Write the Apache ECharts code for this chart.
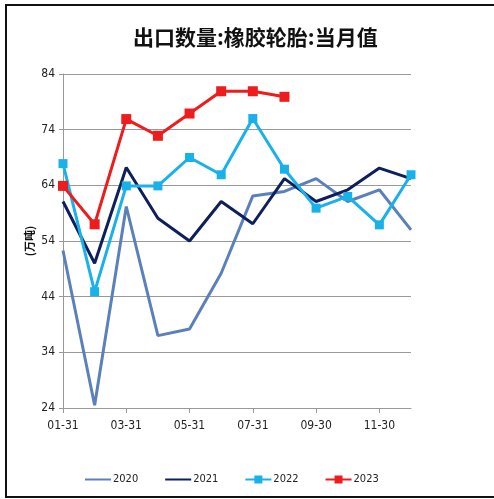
<!DOCTYPE html>
<html>
<head>
<meta charset="utf-8">
<script src="https://cdn.jsdelivr.net/npm/echarts@6/dist/echarts.min.js"></script>
<style>
  html, body { margin: 0; padding: 0; background: #fff; }
  #chart { width: 494px; height: 499px; }
</style>
</head>
<body>
<div id="chart"></div>
<script>
// month-end dates on the x axis
const months = ['01-31', '02-28', '03-31', '04-30', '05-31', '06-30',
  '07-31', '08-31', '09-30', '10-31', '11-30', '12-31'];
// y tick values
const yTicks = [24, 34, 44, 54, 64, 74, 84];

// export volume, 10k tonnes
const v2020 = [52.3, 24.5, 60.2, 37.0, 38.2, 48.2, 62.1, 62.9, 65.2, 61.1, 63.2, 56.0];
const v2021 = [61.1, 50.0, 67.2, 58.1, 54.0, 61.1, 57.1, 65.2, 61.1, 63.2, 67.1, 65.2];
const v2022 = [67.9, 44.9, 63.9, 63.9, 69.0, 65.9, 76.0, 66.9, 59.9, 62.0, 56.9, 65.9];
const v2023 = [63.9, 57.0, 75.9, 72.9, 76.9, 80.9, 80.9, 79.9];

const axisFont = '"DejaVu Sans Condensed", "DejaVu Sans", sans-serif';

const chart = echarts.init(document.getElementById('chart'));
chart.setOption({
  animation: false,
  title: {
    text: '出口数量:橡胶轮胎:当月值',
    left: 128,
    top: 22,
    textStyle: {
      fontFamily: '"Noto Sans CJK SC", sans-serif',
      fontSize: 21,
      fontWeight: 'bold',
      color: '#111'
    }
  },
  graphic: [{
    type: 'polyline',
    shape: { points: [[494, 5], [6, 5], [6, 497], [494, 497]] },
    style: { stroke: '#111', lineWidth: 2, fill: null }
  }],
  legend: {
    bottom: 9,
    left: 79,
    itemGap: 26,
    itemWidth: 26,
    itemHeight: 10,
    textStyle: { fontFamily: axisFont, fontSize: 11, color: '#222', padding: [0, 0, 0, -3] },
    data: [
      { name: '2020', itemStyle: { opacity: 0 } },
      { name: '2021', itemStyle: { opacity: 0 } },
      '2022',
      '2023'
    ]
  },
  grid: { left: 63, right: 83, top: 74, bottom: 91 },
  xAxis: {
    type: 'category',
    data: months,
    boundaryGap: false,
    axisLine: { lineStyle: { color: '#999' } },
    axisTick: { interval: 1, length: 5, lineStyle: { color: '#999' } },
    axisLabel: {
      interval: 1,
      margin: 12,
      fontFamily: axisFont,
      fontSize: 12,
      color: '#222'
    }
  },
  yAxis: {
    type: 'value',
    min: 24,
    max: 84,
    name: '(万吨)',
    nameLocation: 'middle',
    nameRotate: 90,
    nameGap: 28,
    nameMoveOverlap: false,
    nameTextStyle: {
      fontFamily: '"Noto Sans CJK SC", sans-serif',
      fontSize: 11,
      fontWeight: 'bold',
      color: '#111'
    },
    axisLine: { show: true, lineStyle: { color: '#999' } },
    axisTick: { show: true, length: 4, customValues: yTicks, lineStyle: { color: '#999' } },
    axisLabel: {
      customValues: yTicks,
      margin: 8,
      fontFamily: axisFont,
      fontSize: 12,
      color: '#222'
    },
    splitLine: { show: true, lineStyle: { color: '#999', width: 1 } }
  },
  series: [{
    name: '2020',
    type: 'line',
    data: v2020,
    symbol: 'none',
    lineStyle: { width: 3, color: '#5b81bb' },
    itemStyle: { color: '#5b81bb' }
  }, {
    name: '2021',
    type: 'line',
    data: v2021,
    symbol: 'none',
    lineStyle: { width: 3, color: '#0e1f5b' },
    itemStyle: { color: '#0e1f5b' }
  }, {
    name: '2022',
    type: 'line',
    data: v2022,
    symbol: 'rect',
    symbolSize: 9,
    lineStyle: { width: 3, color: '#19b1ea' },
    itemStyle: { color: '#19b1ea' }
  }, {
    name: '2023',
    type: 'line',
    data: v2023,
    symbol: 'rect',
    symbolSize: 10,
    lineStyle: { width: 3, color: '#ee1c1c' },
    itemStyle: { color: '#ee1c1c' }
  }]
});
</script>
</body>
</html>
